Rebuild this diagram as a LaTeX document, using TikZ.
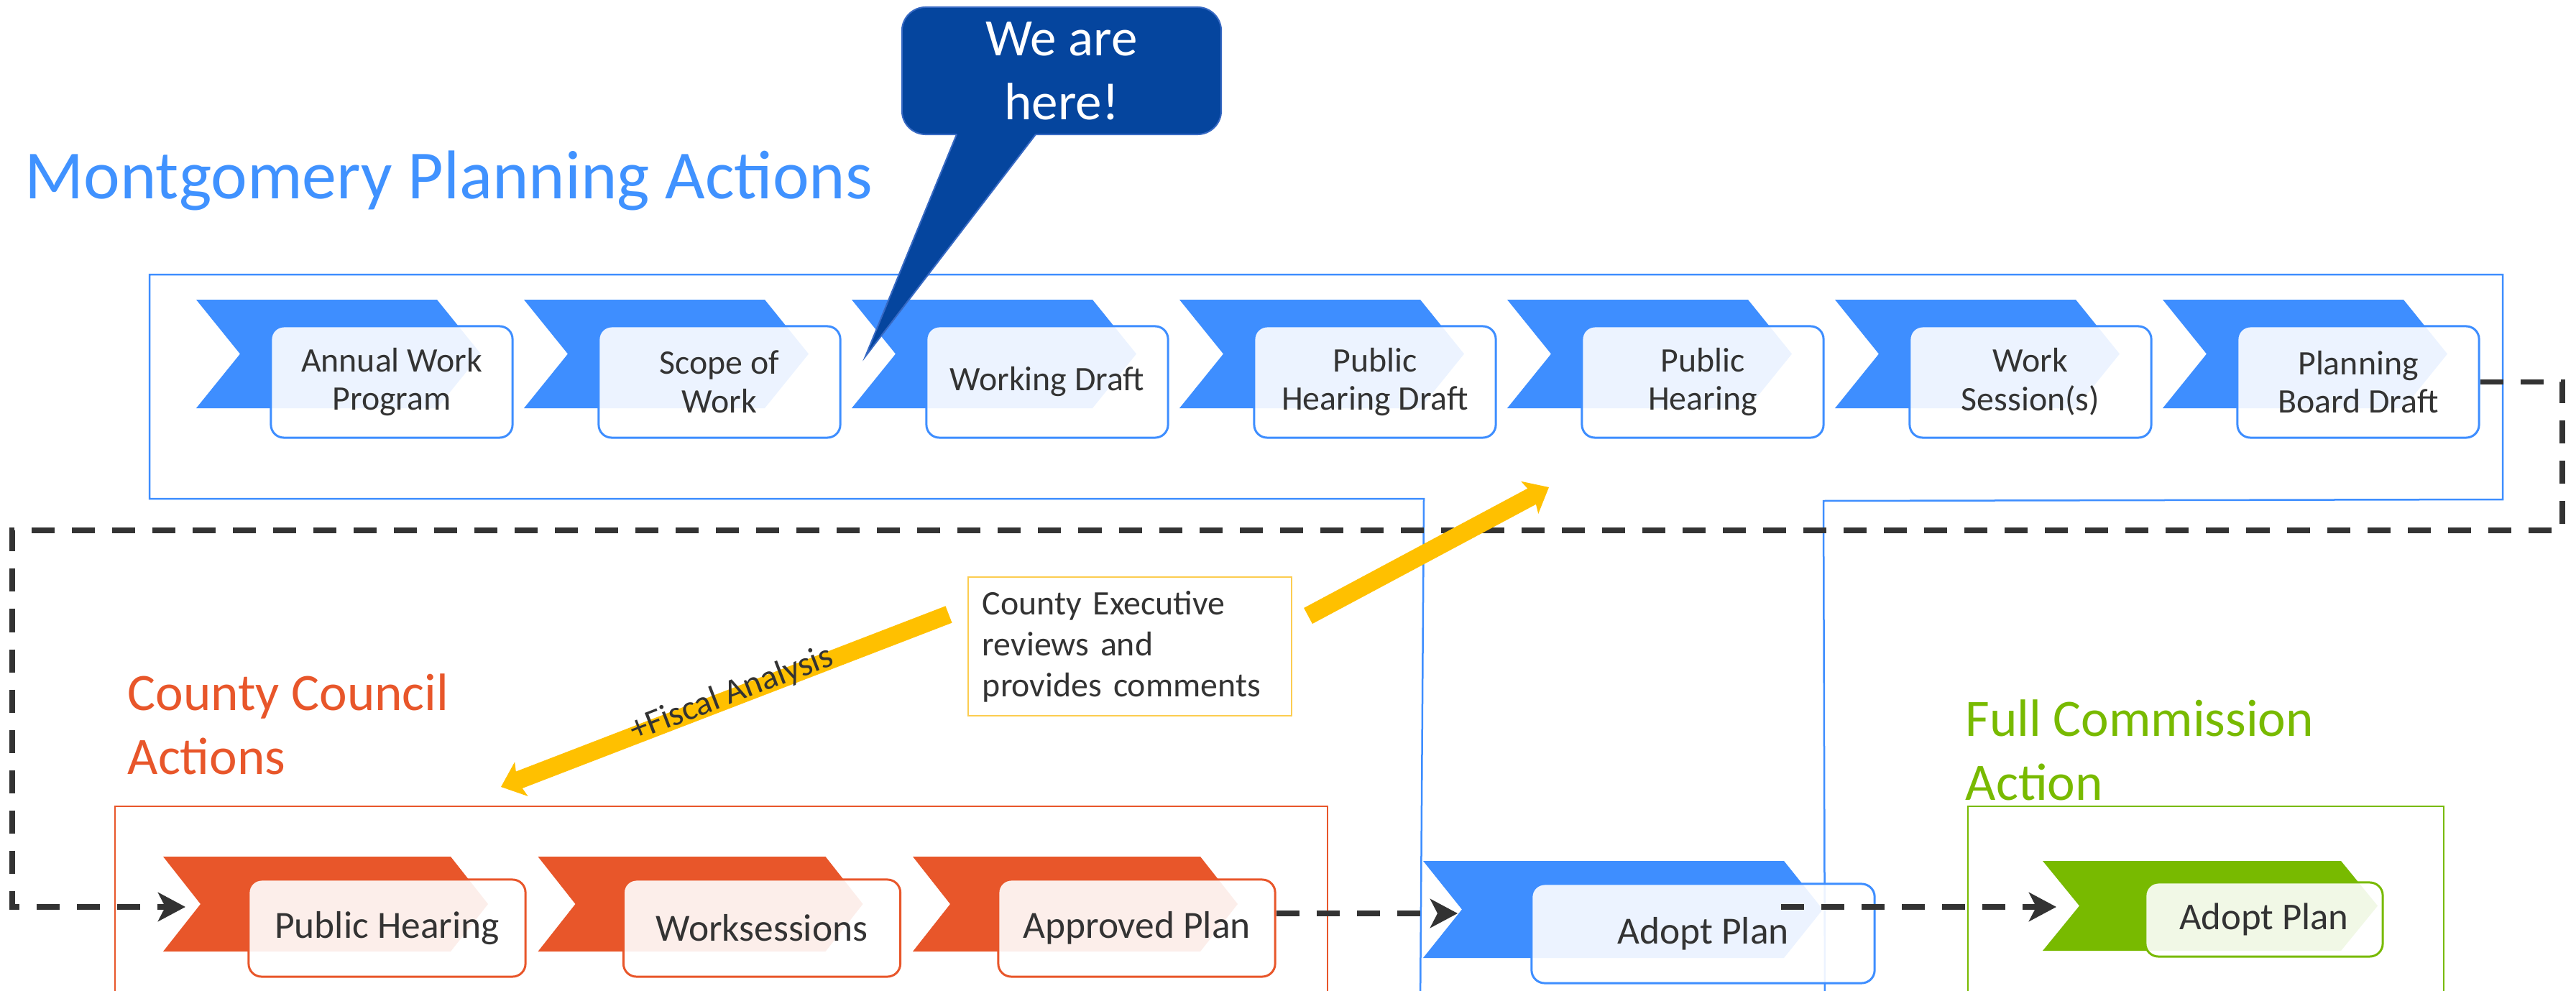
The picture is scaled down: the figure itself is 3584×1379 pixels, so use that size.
\documentclass[tikz,border=0pt]{standalone}
\usepackage{fontspec}
\setmainfont{Carlito}
\usetikzlibrary{arrows.meta}
\definecolor{pblue}{RGB}{62,142,255}
\definecolor{tblue}{RGB}{64,146,255}
\definecolor{cred}{RGB}{232,86,42}
\definecolor{cgreen}{RGB}{120,186,0}
\definecolor{cyellow}{RGB}{255,192,0}
\definecolor{eyellow}{RGB}{252,205,80}
\definecolor{dtext}{RGB}{51,51,51}
\definecolor{cfill}{RGB}{5,69,158}
\definecolor{cborder}{RGB}{55,105,195}
\newcommand{\chevshape}[6]{%
  \fill[#6] (#1,#2) -- ++(#3-#5,0) -- ++(#5,#4/2) -- ++(-#5,#4/2) -- ++(-#3+#5,0) -- ++(#5,-#4/2) -- cycle;}
\tikzset{
  frameline/.style={line width=0.025cm},
  stepbox/.style={rectangle, rounded corners=0.18cm, line width=0.03cm, fill=white, fill opacity=0.9, text opacity=1, text=dtext, align=center, inner sep=0pt},
  topbox/.style={stepbox, draw=pblue, minimum width=3.36cm, minimum height=1.55cm, font=\fontsize{13.6pt}{15.3pt}\selectfont},
  redbox/.style={stepbox, draw=cred, minimum width=3.85cm, minimum height=1.35cm, font=\fontsize{15.2pt}{18pt}\selectfont},
  titlefont/.style={font=\fontsize{20.8pt}{25.3pt}\selectfont, inner sep=0pt, align=left},
  dashline/.style={draw=dtext, line width=0.075cm, dash pattern=on 0.32cm off 0.24cm, -{Stealth[length=0.38cm, width=0.4cm, inset=0.1cm]}},
  yarrow/.style={draw=cyellow, line width=0.25cm, -{Stealth[length=0.3cm, width=0.5cm, inset=0.06cm]}},
}
\begin{document}
\begin{tikzpicture}[x=0.01cm, y=-0.01cm]
\useasboundingbox (0,0) rectangle (3584,1379);
\clip (0,0) rectangle (3584,1379);
\fill[white] (0,0) rectangle (3584,1379);

% frames
\draw[pblue, frameline] (1976,1400) -- (1981,694) -- (208,694) -- (208,382) -- (3482,382) -- (3482,695) -- (2537,697) -- (2539,1400);
\draw[cred, frameline] (160,1400) -- (160,1122) -- (1847,1122) -- (1847,1400);
\draw[cgreen, frameline] (2738,1400) -- (2738,1122) -- (3400,1122) -- (3400,1400);

% titles
\node[anchor=base west, text=tblue, font=\fontsize{27.3pt}{33pt}\selectfont, inner sep=0pt] (ttop) at (34,277) {Montgomery Planning Actions};
\node[anchor=base west, text=cred, titlefont] (tred) at (177,1077) {County Council\\Actions};
\node[anchor=base west, text=cgreen, titlefont] (tgreen) at (2734,1113) {Full Commission\\Action};

% top row chevrons
\chevshape{273}{417}{396}{151}{61}{pblue}
\chevshape{729}{417}{396}{151}{61}{pblue}
\chevshape{1185}{417}{396}{151}{61}{pblue}
\chevshape{1641}{417}{396}{151}{61}{pblue}
\chevshape{2097}{417}{396}{151}{61}{pblue}
\chevshape{2553}{417}{396}{151}{61}{pblue}
\chevshape{3009}{417}{396}{151}{61}{pblue}
\node[topbox] (t1) at (545,531.5) {Annual Work\\Program};
\node[topbox] (t2) at (1001,531.5) {Scope of\\Work};
\node[topbox] (t3) at (1457,531.5) {Working Draft};
\node[topbox] (t4) at (1913,531.5) {Public\\Hearing Draft};
\node[topbox] (t5) at (2369,531.5) {Public\\Hearing};
\node[topbox] (t6) at (2825,531.5) {Work\\Session(s)};
\node[topbox] (t7) at (3281,531.5) {Planning\\Board Draft};

% red row
\chevshape{227}{1192}{452}{132}{52}{cred}
\chevshape{748.5}{1192}{452}{132}{52}{cred}
\chevshape{1270}{1192}{452}{132}{52}{cred}
\node[redbox] (r1) at (538.5,1291.5) {Public Hearing};
\node[redbox] (r2) at (1060,1291.5) {Worksessions};
\node[redbox] (r3) at (1581.5,1291.5) {Approved Plan};

% middle adopt plan
\chevshape{1980}{1198}{556}{135}{54}{pblue}
\node[stepbox, draw=pblue, minimum width=4.77cm, minimum height=1.38cm, font=\fontsize{15.2pt}{18pt}\selectfont] (ad) at (2369.5,1299) {Adopt Plan};

% green adopt plan
\chevshape{2842}{1198}{466}{125}{51}{cgreen}
\node[stepbox, draw=cgreen, minimum width=3.3cm, minimum height=1.03cm, font=\fontsize{15pt}{18pt}\selectfont] (gd) at (3150,1279.5) {Adopt Plan};

% dashed connectors
\coordinate (d1) at (3565,738);
\coordinate (d2) at (17,738);
\coordinate (r1in) at (258,1262);
\coordinate (adin) at (2028,1271);
\coordinate (adout) at (2478,1262);
\coordinate (gdin) at (2861,1262);
\draw[dashline] (t7.east) -| (d1) -- (d2) |- (r1in);
\draw[dashline] (r3.east |- adin) -- (adin);
\draw[dashline] (adout) -- (gdin);

% county executive
\node[draw=eyellow, line width=0.02cm, fill=white, text=dtext, align=left, text width=4.1cm, inner xsep=0.2cm, inner ysep=0pt, minimum height=1.93cm, font=\fontsize{13.6pt}{16.2pt}\selectfont] (exec) at (1572,899.5) {County Executive\\reviews and\\provides comments};

% yellow arrows
\coordinate (ya1s) at (1820,857);
\coordinate (ya1e) at (2155,678);
\coordinate (ya2s) at (1320,855);
\coordinate (ya2e) at (697,1095);
\draw[yarrow] (ya1s) -- (ya1e);
\draw[yarrow] (ya2s) -- (ya2e);
\node[rotate=21, text=dtext, inner sep=0pt, font=\fontsize{13.7pt}{16pt}\selectfont] (fiscal) at (1018,966) {+Fiscal Analysis};

% callout
\node[fill=cfill, draw=cborder, line width=0.02cm, rounded corners=0.33cm, minimum width=4.44cm, minimum height=1.77cm, text=white, align=center, inner sep=0pt, font=\fontsize{20.8pt}{25.3pt}\selectfont] (here) at (1477,98.5) {We are\\here!};
\fill[cfill] (1334,180) -- (1204,496) -- (1446,180) -- cycle;
\draw[cborder, line width=0.02cm] (1331,187) -- (1204,496) -- (1441,187);
\end{tikzpicture}
\end{document}
